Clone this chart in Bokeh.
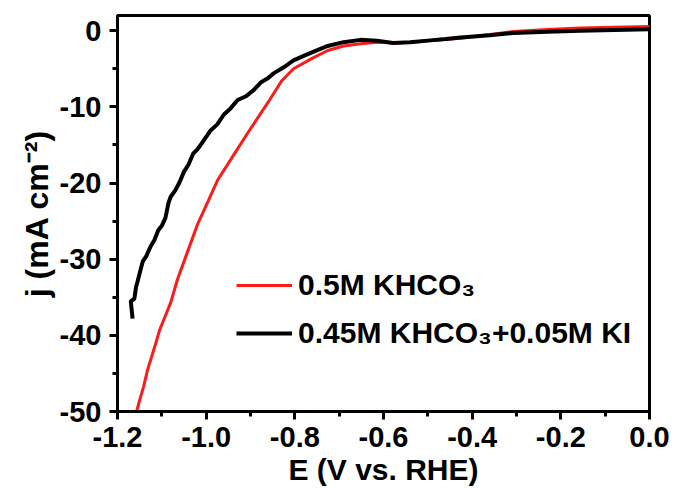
import numpy as np
from bokeh.plotting import figure
from bokeh.models import (FixedTicker, Legend, LegendItem, Range1d,
                          PrintfTickFormatter)
from bokeh.embed import file_html
from bokeh.resources import INLINE

# ---------------- data ----------------
red_E = [-1.157, -1.150, -1.141, -1.132, -1.114, -1.105, -1.080, -1.065,
         -1.045, -1.020, -0.995, -0.974, -0.940, -0.907, -0.857, -0.830,
         -0.803, -0.760, -0.726, -0.690, -0.652, -0.615, -0.578, -0.540,
         -0.500, -0.426, -0.360, -0.307, -0.230, -0.156, -0.080, 0.0]
red_j = [-50.0, -48.5, -46.7, -44.5, -41.1, -39.3, -35.7, -32.7,
         -29.5, -25.5, -22.3, -19.6, -16.5, -13.5, -9.1, -6.6,
         -5.0, -3.6, -2.6, -2.0, -1.7, -1.5, -1.6, -1.5,
         -1.3, -1.0, -0.5, -0.1, 0.15, 0.35, 0.45, 0.55]

black_E = [-1.166, -1.170, -1.162, -1.158, -1.155, -1.148, -1.143, -1.135,
           -1.126, -1.117, -1.108, -1.100, -1.092, -1.085, -1.080, -1.069,
           -1.060, -1.050, -1.040, -1.029, -1.020, -1.010, -0.990, -0.975,
           -0.960, -0.945, -0.929, -0.910, -0.893, -0.877, -0.860, -0.848,
           -0.825, -0.803, -0.780, -0.760, -0.726, -0.690, -0.652, -0.615,
           -0.578, -0.540, -0.500, -0.460, -0.426, -0.360, -0.307, -0.230,
           -0.156, -0.080, 0.0]
black_j = [-37.8, -35.5, -35.2, -33.6, -33.0, -31.4, -30.3, -29.6,
           -28.4, -27.5, -26.2, -25.6, -24.6, -22.6, -21.8, -20.9,
           -19.9, -18.5, -17.6, -16.1, -15.6, -14.8, -13.1, -12.3,
           -11.0, -10.2, -9.1, -8.6, -7.8, -6.8, -6.2, -5.6,
           -4.8, -3.9, -3.3, -2.8, -2.0, -1.5, -1.2, -1.3,
           -1.6, -1.5, -1.3, -1.1, -0.9, -0.6, -0.3, -0.15,
           0.0, 0.1, 0.2]

x_ticks = [-1.2, -1.0, -0.8, -0.6, -0.4, -0.2, 0.0]
x_minor = [-1.1, -0.9, -0.7, -0.5, -0.3, -0.1]
y_ticks = [0, -10, -20, -30, -40, -50]
y_minor = [-5, -15, -25, -35, -45]
legend_labels = ["0.5M KHCO\u2083", "0.45M KHCO\u2083+0.05M KI"]
x_label = "E (V vs. RHE)"
y_label = "j (mA cm\u207b\u00b2)"

# ---------------- layout ----------------
W, H = 676, 488
X0, X1 = -1.2, 0.0
Y0, Y1 = -50.0, 2.0
# frame position in canvas pixels
FL, FR, FT, FB = 117, 649, 15, 412
FONT = "Liberation Sans"

p = figure(width=W, height=H, x_range=Range1d(X0, X1), y_range=Range1d(Y0, Y1),
           output_backend="svg", toolbar_location=None,
           min_border_left=FL, min_border_right=W - FR,
           min_border_top=FT, min_border_bottom=H - FB)
p.background_fill_color = "white"
p.border_fill_color = "white"
p.outline_line_color = "black"
p.outline_line_width = 3
p.xgrid.visible = False
p.ygrid.visible = False

for ax in (p.xaxis[0], p.yaxis[0]):
    ax.axis_line_width = 3
    ax.axis_line_color = "black"
    ax.major_tick_line_width = 3
    ax.minor_tick_line_width = 3
    ax.major_tick_in = 0
    ax.major_tick_out = 8
    ax.minor_tick_in = 0
    ax.minor_tick_out = 5
    ax.major_label_text_font = FONT
    ax.major_label_text_font_style = "bold"
    ax.major_label_text_font_size = "29px"
    ax.major_label_text_color = "black"
    ax.axis_label_text_font = FONT
    ax.axis_label_text_font_style = "bold"
    ax.axis_label_text_color = "black"

p.xaxis.ticker = FixedTicker(ticks=x_ticks, minor_ticks=x_minor)
p.yaxis.ticker = FixedTicker(ticks=y_ticks, minor_ticks=y_minor)
p.xaxis.formatter = PrintfTickFormatter(format="%.1f")
p.yaxis.formatter = PrintfTickFormatter(format="%d")
p.xaxis.major_label_standoff = 7
p.yaxis.major_label_standoff = 8

p.xaxis.axis_label = x_label
p.xaxis.axis_label_text_font_size = "30px"
p.xaxis.axis_label_standoff = 3
p.yaxis.axis_label = y_label
p.yaxis.axis_label_text_font_size = "32px"
p.yaxis.axis_label_standoff = 2

# ---------------- curves ----------------
r_red = p.line(red_E, red_j, line_color="#ff1a1a", line_width=3)
r_blk = p.line(black_E, black_j, line_color="black", line_width=4)

legend = Legend(items=[LegendItem(label=legend_labels[0], renderers=[r_red]),
                       LegendItem(label=legend_labels[1], renderers=[r_blk])],
                location=(236 - FL, FB - 354),
                glyph_width=56, glyph_height=40, label_height=40,
                spacing=8, label_standoff=6, padding=0, margin=0,
                border_line_color=None, background_fill_alpha=0,
                label_text_font=FONT, label_text_font_style="bold",
                label_text_font_size="30px", label_text_color="black")
p.add_layout(legend)

open("out.html", "w").write(file_html(p, INLINE))
